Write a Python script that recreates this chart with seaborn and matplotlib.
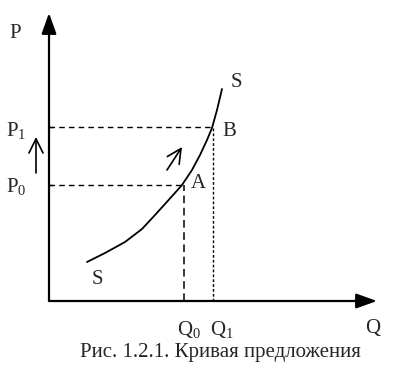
import matplotlib
matplotlib.use("Agg")
import matplotlib.pyplot as plt
import seaborn as sns
import pandas as pd

sns.set_style("white")
plt.rcParams["font.family"] = ["Liberation Serif", "DejaVu Serif"]
plt.rcParams["mathtext.fontset"] = "custom"
plt.rcParams["mathtext.rm"] = "Liberation Serif"
plt.rcParams["mathtext.it"] = "Liberation Serif"

# Supply curve (Q, P)
curve_q = [3.8, 5.6, 7.6, 9.3, 10.6, 11.6, 12.5, 13.3, 14.3, 15.1, 15.8, 16.3, 16.8, 17.3]
curve_p = [3.9, 4.8, 5.9, 7.2, 8.6, 9.7, 10.7, 11.6, 13.1, 14.6, 16.1, 17.3, 19.1, 21.2]
Q0, Q1 = 13.5, 16.4
P0, P1 = 11.6, 17.4
x_max, y_max = 32.8, 28.8
caption = "Рис. 1.2.1. Кривая предложения"

curve = pd.DataFrame({"Q": curve_q, "P": curve_p})

fig = plt.figure(figsize=(3.97, 3.68), dpi=100)
ax = fig.add_axes([0, 0, 1, 1])
ax.set_xlim(-4.9, 34.8)
ax.set_ylim(-6.7, 30.1)
ax.axis("off")

sns.lineplot(data=curve, x="Q", y="P", sort=False, ax=ax, color="black", lw=1.3)

# guide lines
dash = dict(color="black", lw=1.0, ls=(0, (4, 3)))
ax.plot([0, Q0], [P0, P0], **dash)
ax.plot([0, Q1], [P1, P1], **dash)
ax.plot([Q0, Q0], [0, P0], color="black", lw=1.1, ls=(0, (5, 3)))
ax.plot([Q1, Q1], [0, P1], color="black", lw=1.0, ls=(0, (2, 1.5)))
# small ticks on P axis
ax.plot([0, 0.3], [P0, P0], color="black", lw=1.0)
ax.plot([0, 0.3], [P1, P1], color="black", lw=1.0)

# axes with arrows
arr = dict(arrowstyle="-|>,head_length=0.7,head_width=0.25", lw=1.6,
           color="black", shrinkA=0, shrinkB=0, mutation_scale=18)
ax.annotate("", xy=(0, y_max), xytext=(0, 0), arrowprops=arr)
ax.annotate("", xy=(x_max, 0), xytext=(0, 0), arrowprops=arr)

fs = 15
ax.text(-3.4, 26.8, "P", fontsize=fs, ha="center", va="center")
ax.text(-4.3, P1 - 0.3, r"$\mathrm{P}_1$", fontsize=fs, ha="left", va="center")
ax.text(-4.3, P0 - 0.1, r"$\mathrm{P}_0$", fontsize=fs, ha="left", va="center")
ax.text(Q0 - 0.7, -2.8, r"$\mathrm{Q}_0$", fontsize=fs, ha="left", va="center")
ax.text(Q1 - 0.3, -2.8, r"$\mathrm{Q}_1$", fontsize=fs, ha="left", va="center")
ax.text(32.4, -2.8, "Q", fontsize=fs, ha="center", va="center")
ax.text(18.7, 21.9, "S", fontsize=fs, ha="center", va="center")
ax.text(4.8, 2.1, "S", fontsize=fs, ha="center", va="center")
ax.text(18.0, 17.0, "B", fontsize=fs, ha="center", va="center")
ax.text(14.9, 11.8, "A", fontsize=fs, ha="center", va="center")
ax.text(17.1, -5.1, caption, fontsize=fs, ha="center", va="center")

# movement arrows
open_arr = dict(arrowstyle="->,head_length=0.6,head_width=0.3", lw=1.2,
                color="black", shrinkA=0, shrinkB=0, mutation_scale=17)
ax.annotate("", xy=(-1.3, 16.4), xytext=(-1.3, 12.8), arrowprops=open_arr)
ax.annotate("", xy=(13.3, 15.4), xytext=(11.8, 13.1), arrowprops=open_arr)

fig.savefig("out.png", dpi=100)
